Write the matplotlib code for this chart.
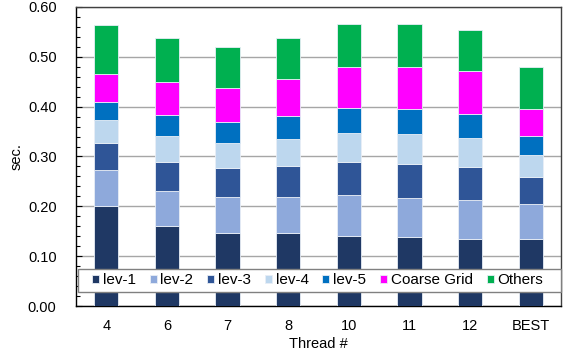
import matplotlib
matplotlib.use("Agg")
import matplotlib.pyplot as plt
import numpy as np
from matplotlib.ticker import MultipleLocator, FormatStrFormatter
from matplotlib.patches import Rectangle

plt.rcParams['font.family'] = ['Liberation Sans', 'DejaVu Sans']

threads = ["4", "6", "7", "8", "10", "11", "12", "BEST"]
series = ["lev-1", "lev-2", "lev-3", "lev-4", "lev-5", "Coarse Grid", "Others"]

# per-component times (sec.) for each thread count
lev1 = [0.200, 0.161, 0.147, 0.147, 0.141, 0.139, 0.134, 0.134]
lev2 = [0.073, 0.069, 0.071, 0.072, 0.081, 0.078, 0.078, 0.070]
lev3 = [0.054, 0.059, 0.058, 0.062, 0.067, 0.068, 0.066, 0.054]
lev4 = [0.046, 0.052, 0.052, 0.055, 0.058, 0.060, 0.059, 0.046]
lev5 = [0.037, 0.042, 0.042, 0.045, 0.050, 0.050, 0.048, 0.037]
coarse = [0.056, 0.067, 0.067, 0.074, 0.083, 0.084, 0.086, 0.055]
others = [0.097, 0.088, 0.083, 0.083, 0.086, 0.086, 0.083, 0.083]

colors = ["#1F3864", "#8EA9DB", "#2F5597", "#BDD7EE", "#0070C0", "#FF00FF", "#00B050"]

fig = plt.figure(figsize=(5.64, 3.58), dpi=100)
ax = fig.add_axes([76 / 564, 1 - 306 / 358, (561 - 76) / 564, (306 - 7) / 358])

x = np.arange(len(threads))
bottom = np.zeros(len(threads))
for name, vals, col in zip(series, [lev1, lev2, lev3, lev4, lev5, coarse, others], colors):
    ax.bar(x, vals, 0.4, bottom=bottom, color=col, label=name,
           edgecolor="#E8EEF6", linewidth=0.6, zorder=3)
    bottom += np.array(vals)

ax.set_xlim(-0.5, len(threads) - 0.5)
ax.set_ylim(0, 0.6)
ax.yaxis.set_major_locator(MultipleLocator(0.1))
ax.yaxis.set_minor_locator(MultipleLocator(0.02))
ax.yaxis.set_major_formatter(FormatStrFormatter("%.2f"))
ax.set_xticks(x)
ax.set_xticklabels(threads)
ax.grid(axis="y", which="major", color="#A6A6A6", linewidth=1.0, zorder=0)

ax.tick_params(axis="both", which="major", direction="in", length=4, labelsize=10.5, width=0.8)
ax.tick_params(axis="y", which="minor", direction="in", length=3, width=0.8)
ax.tick_params(axis="x", which="major", pad=9)
ax.tick_params(axis="y", which="major", pad=14)

for s in ["left", "bottom"]:
    ax.spines[s].set_color("black")
    ax.spines[s].set_linewidth(1.0)
for s in ["top", "right"]:
    ax.spines[s].set_color("#404040")
    ax.spines[s].set_linewidth(1.0)

ax.set_ylabel("sec.", fontsize=10.5, labelpad=3)
ax.set_xlabel("Thread #", fontsize=10.5, labelpad=3.5)

# legend box spanning the lower part of the plot area
box_x0 = (78 - 76) / 485
box_x1 = (561 - 76) / 485
box_y0 = (306 - 291.7) / 299
box_y1 = (306 - 269) / 299
ax.add_patch(Rectangle((box_x0, box_y0), box_x1 - box_x0, box_y1 - box_y0,
                       transform=ax.transAxes, facecolor="white",
                       edgecolor="#808080", linewidth=1.0, zorder=5, clip_on=False))

leg = ax.legend(ncol=7, loc="center", bbox_to_anchor=((box_x0 + box_x1) / 2 - 0.004, (box_y0 + box_y1) / 2),
                fontsize=11, frameon=False,
                handlelength=0.46, handleheight=0.46, handletextpad=0.25,
                columnspacing=0.9, borderpad=0.0, borderaxespad=0)
leg.set_zorder(6)

fig.savefig("out.png", dpi=100)
